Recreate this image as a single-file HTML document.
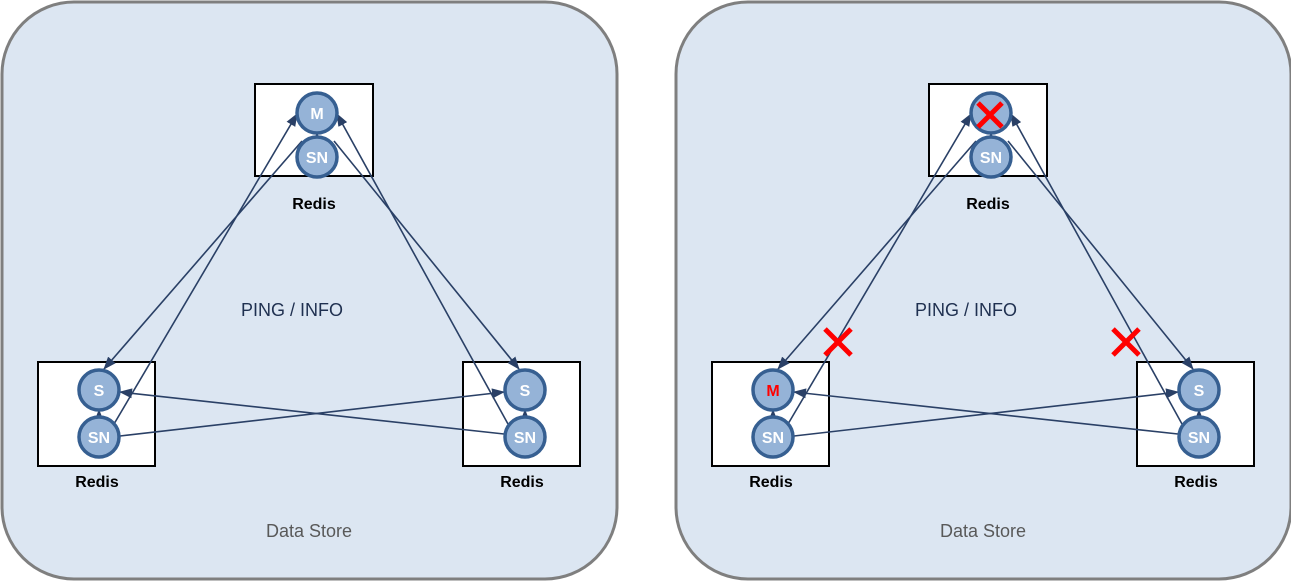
<!DOCTYPE html>
<html><head><meta charset="utf-8"><style>
html,body{margin:0;padding:0;background:#fff;}
svg{display:block;}
</style></head><body>
<svg width="1291" height="583" viewBox="0 0 1291 583" xmlns="http://www.w3.org/2000/svg" font-family="Liberation Sans, sans-serif">
<defs>
<marker id="a" markerWidth="13" markerHeight="10" refX="12" refY="5" orient="auto" markerUnits="userSpaceOnUse">
<path d="M0,0 L13,5 L0,10 z" fill="#2a4066"/>
</marker>
<g id="panel">
<rect x="2" y="2" width="615" height="577" rx="72" ry="72" fill="#dce6f2" stroke="#7f7f7f" stroke-width="3"/>
<rect x="255" y="84" width="118" height="92" fill="#fff" stroke="#000" stroke-width="2"/>
<rect x="38" y="362" width="117" height="104" fill="#fff" stroke="#000" stroke-width="2"/>
<rect x="463" y="362" width="117" height="104" fill="#fff" stroke="#000" stroke-width="2"/>
<text x="314" y="209" font-size="16" font-weight="bold" text-anchor="middle">Redis</text>
<text x="97" y="487" font-size="16" font-weight="bold" text-anchor="middle">Redis</text>
<text x="522" y="487" font-size="16" font-weight="bold" text-anchor="middle">Redis</text>
<text x="292" y="316" font-size="18" fill="#1f3050" text-anchor="middle">PING / INFO</text>
<text x="309" y="537" font-size="18" fill="#595959" text-anchor="middle">Data Store</text>
<g stroke="#2a4066" stroke-width="1.6" fill="none" marker-end="url(#a)">
<line x1="302" y1="141" x2="104" y2="369"/>
<line x1="114" y1="424" x2="297" y2="114"/>
<line x1="334" y1="141" x2="519" y2="369"/>
<line x1="508" y1="424" x2="337" y2="114"/>
<line x1="120" y1="436" x2="504" y2="392"/>
<line x1="504" y1="434" x2="120" y2="392"/>
<line x1="317" y1="138" x2="317" y2="133"/>
<line x1="99" y1="418" x2="99" y2="410"/>
<line x1="525" y1="418" x2="525" y2="410"/>
</g>
<g fill="#95b3d7" stroke="#365f91" stroke-width="3.5">
<circle cx="317" cy="113" r="20"/>
<circle cx="317" cy="157" r="20"/>
<circle cx="99" cy="390" r="20"/>
<circle cx="99" cy="437" r="20"/>
<circle cx="525" cy="390" r="20"/>
<circle cx="525" cy="437" r="20"/>
</g>
<g fill="#fff" font-size="16" font-weight="bold" text-anchor="middle">
<text x="317" y="163">SN</text>
<text x="99" y="443">SN</text>
<text x="525" y="396">S</text>
<text x="525" y="443">SN</text>
</g>
</g>
</defs>
<use href="#panel"/>
<text x="317" y="119" fill="#fff" font-size="16" font-weight="bold" text-anchor="middle">M</text>
<text x="99" y="396" fill="#fff" font-size="16" font-weight="bold" text-anchor="middle">S</text>
<g transform="translate(674,0)">
<use href="#panel"/>
<text x="99" y="396" fill="#ff0000" font-size="16" font-weight="bold" text-anchor="middle">M</text>
</g>
<g stroke="#ff0000" stroke-width="5">
<line x1="978" y1="103" x2="1002" y2="127"/><line x1="1002" y1="103" x2="978" y2="127"/>
<line x1="825" y1="329" x2="851" y2="355"/><line x1="851" y1="329" x2="825" y2="355"/>
<line x1="1113" y1="329" x2="1139" y2="355"/><line x1="1139" y1="329" x2="1113" y2="355"/>
</g>
</svg>
</body></html>
